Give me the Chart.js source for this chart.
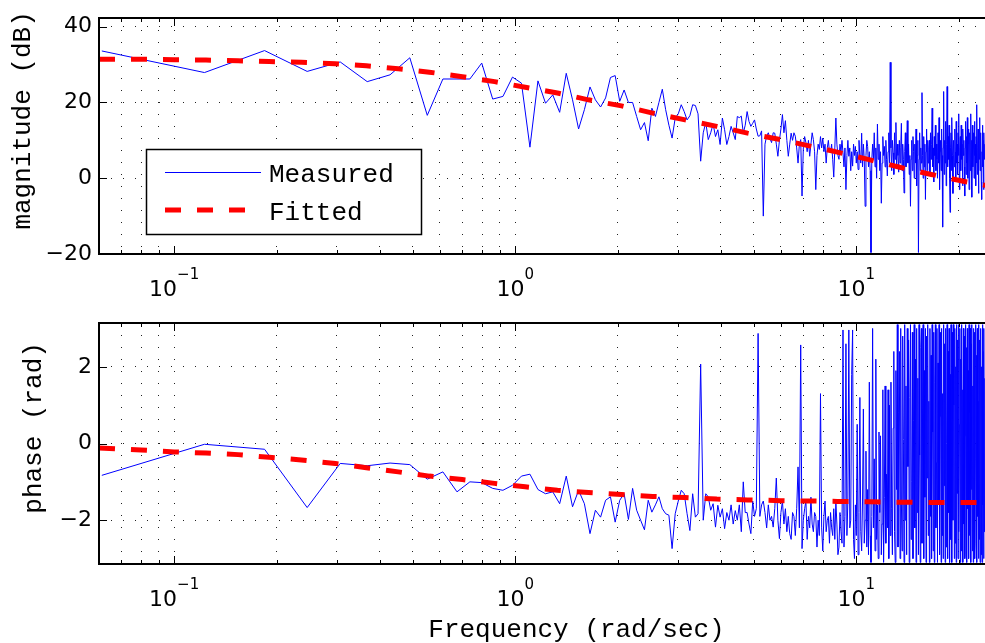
<!DOCTYPE html>
<html>
<head>
<meta charset="utf-8">
<script src="https://cdn.jsdelivr.net/npm/chart.js@4.4.1/dist/chart.umd.min.js"></script>
<style>
  html, body { margin: 0; padding: 0; background: #fff; overflow: hidden; }
  #page { position: relative; width: 985px; height: 643px; overflow: hidden; }
  .panel { position: absolute; left: 0; }
</style>
</head>
<body>
<div id="page">
  <canvas id="magChart" class="panel" width="1060" height="300" style="top:0"></canvas>
  <canvas id="phaseChart" class="panel" width="1060" height="343" style="top:300px"></canvas>
</div>
<script>
// measured response sits on evenly spaced FFT bins (rad/sec)
const binStep = 0.06136;

// measured magnitude (dB), one value per bin starting at bin 1
const measuredMag = [
  33.6, 27.9, 33.7, 28.2, 30.7, 25.5, 27.3, 31.8, 16.6, 26.2,
  26.2, 26.2, 30.4, 20.9, 21.6, 26.7, 25.1, 8.2, 25.7, 19.8,
  22.0, 17.4, 27.7, 20.7, 13.0, 18.1, 24.1, 20.7, 18.8, 21.2,
  26.6, 27.1, 20.3, 23.3, 20.0, 20.0, 16.3, 12.8, 14.7, 9.9,
  18.5, 16.3, 20.0, 23.5, 18.1, 14.0, 10.6, 15.9, 17.0, 19.4,
  17.6, 15.4, 16.5, 19.4, 19.2, 17.0, 4.5, 12.0, 14.7, 10.2,
  12.0, 14.3, 11.0, 12.8, 8.9, 15.9, 12.8, 8.9, 11.0, 13.7,
  12.0, 10.2, 16.3, 16.0, 16.4, 11.9, 14.0, 17.6, 15.0, 13.7,
  14.5, 15.4, 13.0, 11.1, 11.2, 12.5, -10.0, 9.0, 11.2, 12.0,
  10.5, 9.4, 12.0, 11.9, 9.0, 5.8, 10.0, 13.0, 16.8, 12.0,
  15.2, 10.0, 5.8, 9.0, 11.9, 10.0, 12.0, 11.1, 8.0, 4.0,
  9.0, 10.2, -4.7, 8.0, 11.0, 9.4, 7.0, 10.0, 5.8, 9.0,
  12.0, 10.2, 7.0, -3.0, 6.0, 9.0, 7.6, 11.0, 8.0, 10.6,
  7.0, 9.0, 4.0, 8.0, 10.0, 7.0, 6.7, 9.0, 5.0, 0.3,
  8.0, 15.9, 9.0, 6.0, 5.0, 9.0, 7.0, 10.0, 6.7, 3.0,
  8.0, -3.0, 6.0, 10.0, 5.8, 8.0, 2.0, 7.0, 3.2, 9.0,
  6.0, 8.4, 4.0, 7.0, 2.3, 10.0, 6.0, 4.0, 11.9, 3.0,
  9.0, 5.0, -7.4, 6.0, 10.0, 8.4, 3.0, 7.0, 2.0, -19.6,
  5.0, 9.0, 5.0, 12.0, 3.0, 8.0, 0.0, 14.3, 5.0, 9.0,
  2.0, 7.0, -6.6, 4.0, 11.0, 6.0, 8.4, 3.0, 10.0, 5.0,
  0.6, 7.0, 12.0, 4.0, 30.6, 8.0, 2.0, 10.0, 6.7, 1.0,
  12.0, 5.0, 14.7, 3.0, 9.0, 6.0, 1.6, 10.0, 4.0, 8.0,
  14.5, 2.0, 9.0, 5.0, -3.9, 7.0, 12.0, 3.0, 8.0, 15.2,
  4.0, 9.0, 1.0, 6.0, -7.4, 5.0, 10.0, 2.0, 11.0, 7.0,
  0.0, 9.0, 4.0, 13.0, -2.0, 6.0, 10.0, -19.6, 5.0, 12.0,
  2.0, 8.0, 4.0, 22.6, 6.0, 0.0, 11.0, 3.0, 9.0, -5.6,
  7.0, 13.0, 2.0, 10.0, 4.0, 8.0, 10.0, 1.0, 12.0, 5.0,
  9.0, 18.5, 3.0, 8.0, -1.0, 11.0, 6.0, 14.0, 2.0, 9.0,
  5.0, 0.0, 12.0, 4.0, 16.0, -3.0, 7.0, 10.0, 2.0, 13.0,
  6.0, -12.9, 8.0, 22.9, 1.0, 10.0, 4.0, 15.0, -2.0, 9.0,
  24.2, 3.0, 11.0, 5.0, 14.0, 0.0, -9.0, 8.0, 12.0, 2.0,
  16.0, 6.0, -4.0, 10.0, 10.0, 3.0, 13.0, 7.0, -1.0, 15.0,
  4.0, 9.0, 1.0, 12.0, 6.0, 17.0, -3.0, 8.0, 11.0, 2.0,
  14.0, 5.0, 9.0, -2.0, 13.0, 6.0, 10.0, 3.0, -4.7, 8.0,
  15.0, 1.0, 11.0, 4.0, 16.0, 0.0, 9.0, 13.0, -3.0, 7.0,
  12.0, 2.0, 17.0, 5.0, 10.0, -5.0, 14.0, 3.0, 8.0, 12.0,
  0.0, 15.0, 6.0, 9.0, -2.0, 11.0, 4.0, 19.4, 1.0, 8.0,
  13.0, -4.0, 10.0, 5.0, 16.0, 2.0, 9.0, 12.0, -1.0, -5.6,
  7.0, 14.0, 3.0, 10.0, -3.0, 12.0, 5.0, 9.0
];

// measured phase (rad), same bins
const measuredPhase = [
  -0.83, -0.02, -0.15, -1.67, -0.52, -0.58, -0.51, -0.55, -0.93, -0.74,
  -1.26, -1.00, -1.02, -1.17, -1.22, -1.09, -0.85, -0.80, -1.20, -1.31,
  -1.26, -1.57, -0.85, -1.65, -1.22, -1.57, -2.35, -1.74, -1.92, -1.48,
  -1.39, -2.05, -1.48, -1.31, -1.98, -1.17, -1.74, -2.00, -2.25, -1.48,
  -1.79, -1.60, -1.39, -1.70, -1.83, -1.87, -2.74, -1.83, -1.50, -1.22,
  -1.31, -1.83, -2.27, -1.31, -1.92, -1.83, 2.07, -2.00, -1.31, -1.39,
  -1.74, -1.57, -2.18, -1.61, -1.92, -1.70, -2.22, -1.80, -2.00, -1.60,
  -2.10, -1.75, -2.00, -1.60, -2.30, -1.00, -1.80, -1.80, -2.10, -2.35,
  -1.50, -1.90, -1.70, 2.87, -1.90, -1.60, -1.50, -1.80, -2.20, -1.60,
  -2.00, -1.90, -2.18, -1.70, -0.90, -2.00, -2.48, -1.80, -1.50, -2.10,
  -1.70, -2.30, -1.90, -2.35, -2.50, -1.80, -1.90, -2.40, -1.70, -0.61,
  -2.20, 2.57, -2.74, -2.00, -1.70, -1.50, -2.50, -1.90, -2.20, -1.40,
  -2.10, -2.30, -1.80, -1.90, -2.70, -2.00, -2.40, 1.30, -2.20, -2.80,
  -1.90, -1.50, -2.30, -2.00, -1.90, -2.60, -1.80, -2.20, -2.40, -1.70,
  -2.50, -1.50, -2.10, -2.90, -2.70, -1.80, -2.30, -2.60, 2.96, -2.70,
  -1.90, 2.60, -2.40, -1.50, 2.96, -2.20, -2.00, 1.80, 2.96, -2.50,
  -3.00, -1.60, -2.40, 0.50, -2.90, -1.80, 1.20, -2.30, -2.80, -1.50,
  0.90, -2.60, -2.00, -0.20, -2.70, -1.20, -2.90, 1.60, -2.40, -3.10,
  -1.90, 3.00, -2.20, -0.40, -2.80, 2.20, -2.50, -1.60, -3.00, 0.30,
  -1.80, 0.20, -2.90, -2.10, 1.40, -3.10, -1.40, 1.50, -2.60, -0.80,
  -2.20, 1.40, -3.00, 1.00, -2.40, 1.60, -1.70, -2.90, 0.40, 2.40,
  -2.30, -3.10, 1.90, -1.20, 3.10, -2.70, 0.80, 2.40, -3.00, 3.00,
  -1.50, -2.80, 2.80, 0.10, -3.10, 3.10, -2.00, 1.50, -2.90, 3.00,
  -0.60, 2.70, -3.10, 1.20, 3.10, -2.50, -1.00, 2.90, -3.00, 0.60,
  3.10, -2.20, 2.20, -3.10, 3.00, -1.80, 1.70, -2.90, 3.10, -0.30,
  -3.10, 2.50, 3.00, -2.60, 0.90, 3.10, -3.00, 1.90, -1.40, 3.00,
  -3.10, 2.80, -0.90, 3.10, -2.40, 1.10, -3.10, 3.00, -1.90, 2.30,
  -3.00, 3.10, 0.30, -2.80, 2.90, -3.10, 1.60, 3.10, -2.20, -0.50,
  3.00, -3.10, 2.10, -1.60, 3.10, -2.90, 0.70, 2.90, -3.10, 3.00,
  -2.40, 1.30, -3.00, 3.10, -1.10, 2.60, -3.10, 3.00, -2.70, 0.00,
  3.10, -3.00, 2.40, -1.80, 3.00, -3.10, 1.80, -2.50, 3.10, -0.70,
  -3.10, 2.90, -2.00, 3.10, 1.00, -3.00, 3.00, -2.60, 2.00, -3.10,
  3.10, -1.30, 2.70, -3.00, 3.10, -2.30, 0.50, 3.00, -3.10, 2.20,
  -2.80, 3.10, -1.50, 1.40, -3.10, 3.00, -2.10, 2.80, -3.00, 0.20,
  3.10, -2.90, 2.50, -3.10, 3.00, -1.70, 1.90, -3.00, 3.10, -2.40,
  0.80, 3.00, -3.10, 2.60, -1.20, 3.10, -2.80, 1.50, -3.10, 3.00,
  -2.20, 2.90, -3.00, -0.40, 3.10, -2.60, 2.30, -3.10, 3.00, -1.90,
  1.10, -3.00, 3.10, -2.50, 2.70, -3.10, 0.60, 3.00, -2.90, 2.00,
  -3.10, 3.10, -1.60, 2.40, -3.00, 3.00, -2.30, 1.70
];

// fitted model, read at these frequencies
const fitFreq = [0.0602, 0.0646, 0.08, 0.1, 0.124, 0.154, 0.19, 0.236, 0.297, 0.366,
  0.454, 0.56, 0.70, 0.87, 1.07, 1.33, 1.64, 2.05, 2.53, 3.15,
  3.9, 4.8, 6.0, 7.4, 8.8, 10.9, 13.4, 16.6, 20.6, 24];
const fitMag = [31.4, 31.4, 31.4, 31.3, 31.2, 31.0, 30.8, 30.6, 30.2, 29.7,
  28.9, 28.0, 26.8, 25.5, 24.0, 22.5, 20.7, 19.1, 17.2, 15.4,
  13.7, 11.9, 10.2, 8.4, 6.9, 4.9, 2.9, 1.0, -0.8, -1.9];
const fitPhase = [-0.12, -0.13, -0.17, -0.22, -0.25, -0.29, -0.36, -0.43, -0.52, -0.63,
  -0.74, -0.85, -0.94, -1.04, -1.13, -1.22, -1.28, -1.33, -1.38, -1.41,
  -1.45, -1.47, -1.49, -1.50, -1.51, -1.52, -1.53, -1.54, -1.54, -1.54];

// axes
const xMin = 0.0602;
const xMax = 38;
const xMajorTicks = [0.1, 1, 10];
const xTickExponents = ['\u22121', '0', '1'];
const xMinorTicks = [0.07, 0.08, 0.09, 0.2, 0.3, 0.4, 0.5, 0.6, 0.7, 0.8, 0.9,
  2, 3, 4, 5, 6, 7, 8, 9, 20, 30];
const magTicks = [-20, 0, 20, 40];
const phaseTicks = [-2, 0, 2];

const measuredFreq = measuredMag.map((_, i) => (i + 1) * binStep);

function pairs(xs, ys) {
  return ys.map((y, i) => ({ x: xs[i], y: y }));
}

function signed(v) {
  return v < 0 ? '\u2212' + (-v) : String(v);
}

function drawLegend(chart) {
  const ctx = chart.ctx;
  const [meas, fit] = chart.data.datasets;
  ctx.save();
  ctx.fillStyle = '#fff';
  ctx.fillRect(146, 149, 276, 86);
  ctx.strokeStyle = '#000';
  ctx.lineWidth = 1.5;
  ctx.strokeRect(146.5, 149.5, 275, 85);

  ctx.strokeStyle = meas.borderColor;
  ctx.lineWidth = meas.borderWidth;
  ctx.beginPath();
  ctx.moveTo(165, 172.5);
  ctx.lineTo(261, 172.5);
  ctx.stroke();

  ctx.strokeStyle = fit.borderColor;
  ctx.lineWidth = fit.borderWidth;
  ctx.setLineDash(fit.borderDash);
  ctx.beginPath();
  ctx.moveTo(165, 210);
  ctx.lineTo(246, 210);
  ctx.stroke();
  ctx.setLineDash([]);

  ctx.fillStyle = '#000';
  ctx.font = '26px "Liberation Mono"';
  ctx.textBaseline = 'alphabetic';
  ctx.textAlign = 'left';
  ctx.fillText(meas.label, 269, 182);
  ctx.fillText(fit.label, 269, 220);
  ctx.restore();
}

// matlab style box: inward ticks, frame, 10^n labels
function axesPlugin(p) {
  return {
    id: 'matlabAxes',
    afterDatasetsDraw(chart) {
      const { ctx, chartArea: a } = chart;
      const x = chart.scales.x;
      const y = chart.scales.y;
      ctx.save();
      ctx.strokeStyle = '#000';
      ctx.lineWidth = 1;
      ctx.beginPath();
      x.ticks.forEach(t => {
        const px = Math.round(x.getPixelForValue(t.value)) + 0.5;
        const len = t.major ? 8 : 4;
        ctx.moveTo(px, a.bottom);
        ctx.lineTo(px, a.bottom - len);
        ctx.moveTo(px, a.top);
        ctx.lineTo(px, a.top + len);
      });
      y.ticks.forEach(t => {
        const py = Math.round(y.getPixelForValue(t.value)) + 0.5;
        ctx.moveTo(a.left, py);
        ctx.lineTo(a.left + 8, py);
        ctx.moveTo(a.right, py);
        ctx.lineTo(a.right - 8, py);
      });
      ctx.stroke();

      ctx.lineWidth = 2;
      ctx.strokeRect(a.left, a.top, a.right - a.left, a.bottom - a.top);

      ctx.fillStyle = '#000';
      ctx.textBaseline = 'alphabetic';
      ctx.textAlign = 'left';
      xMajorTicks.forEach((v, i) => {
        const px = x.getPixelForValue(v);
        ctx.font = '22px "DejaVu Sans"';
        const wBase = ctx.measureText('10').width;
        ctx.font = '15px "DejaVu Sans"';
        const wExp = ctx.measureText(xTickExponents[i]).width;
        const left = px - (wBase + wExp) / 2;
        ctx.font = '22px "DejaVu Sans"';
        ctx.fillText('10', left, a.bottom + 42);
        ctx.font = '15px "DejaVu Sans"';
        ctx.fillText(xTickExponents[i], left + wBase, a.bottom + 25);
      });

      if (p.legend) drawLegend(chart);
      ctx.restore();
    }
  };
}

function makePanel(canvasId, p) {
  const gridDash = [1, 11];
  return new Chart(document.getElementById(canvasId), {
    type: 'line',
    data: {
      datasets: [
        {
          label: 'Measured',
          data: pairs(measuredFreq, p.measured),
          borderColor: '#0000ff',
          borderWidth: 1,
          borderJoinStyle: 'round',
          order: 1
        },
        {
          label: 'Fitted',
          data: pairs(fitFreq, p.fitted),
          borderColor: '#ff0000',
          borderWidth: 5,
          borderDash: [16, 16],
          borderCapStyle: 'butt',
          order: 0
        }
      ]
    },
    options: {
      responsive: false,
      animation: false,
      events: [],
      layout: { padding: { top: p.top, right: 6, left: 0, bottom: 0 } },
      elements: { point: { radius: 0 }, line: { tension: 0 } },
      plugins: { legend: { display: false }, tooltip: { enabled: false } },
      scales: {
        x: {
          type: 'logarithmic',
          min: xMin,
          max: xMax,
          afterBuildTicks: s => {
            s.ticks = xMajorTicks.concat(xMinorTicks)
              .sort((a, b) => a - b)
              .map(v => ({ value: v, major: xMajorTicks.includes(v) }));
          },
          afterFit: s => {
            s.height = p.xAxisHeight;
            s.paddingLeft = 0;
            s.paddingRight = 0;
          },
          ticks: { display: false, autoSkip: false },
          grid: { color: '#222', lineWidth: 1, drawTicks: false },
          border: { display: false, dash: gridDash },
          title: {
            display: !!p.xTitle,
            text: p.xTitle || '',
            color: '#000',
            font: { family: 'Liberation Mono', size: 26, lineHeight: 1 },
            padding: 0
          }
        },
        y: {
          min: p.yRange[0],
          max: p.yRange[1],
          afterBuildTicks: s => {
            s.ticks = p.yTicks.map(v => ({ value: v }));
          },
          afterFit: s => {
            s.width = 99;
            s.paddingTop = 0;
            s.paddingBottom = 0;
          },
          ticks: {
            color: '#000',
            padding: 7,
            font: { family: 'DejaVu Sans', size: 22 },
            callback: v => signed(v)
          },
          grid: { color: '#222', lineWidth: 1, drawTicks: false },
          border: { display: false, dash: gridDash },
          title: {
            display: true,
            text: '  ' + p.yTitle,
            color: '#000',
            font: { family: 'Liberation Mono', size: 26, lineHeight: 1 },
            padding: { top: p.yTitlePad, bottom: 0 }
          }
        }
      }
    },
    plugins: [axesPlugin(p)]
  });
}

makePanel('magChart', {
  measured: measuredMag,
  fitted: fitMag,
  yRange: [-20, 42.3],
  yTicks: magTicks,
  yTitle: 'magnitude (dB)',
  yTitlePad: 10,
  top: 18,
  xAxisHeight: 46,
  legend: true
});

makePanel('phaseChart', {
  measured: measuredPhase,
  fitted: fitPhase,
  yRange: [-Math.PI, Math.PI],
  yTicks: phaseTicks,
  yTitle: 'phase (rad)',
  yTitlePad: 21,
  top: 23,
  xAxisHeight: 79,
  xTitle: 'Frequency (rad/sec)'
});
</script>
</body>
</html>
